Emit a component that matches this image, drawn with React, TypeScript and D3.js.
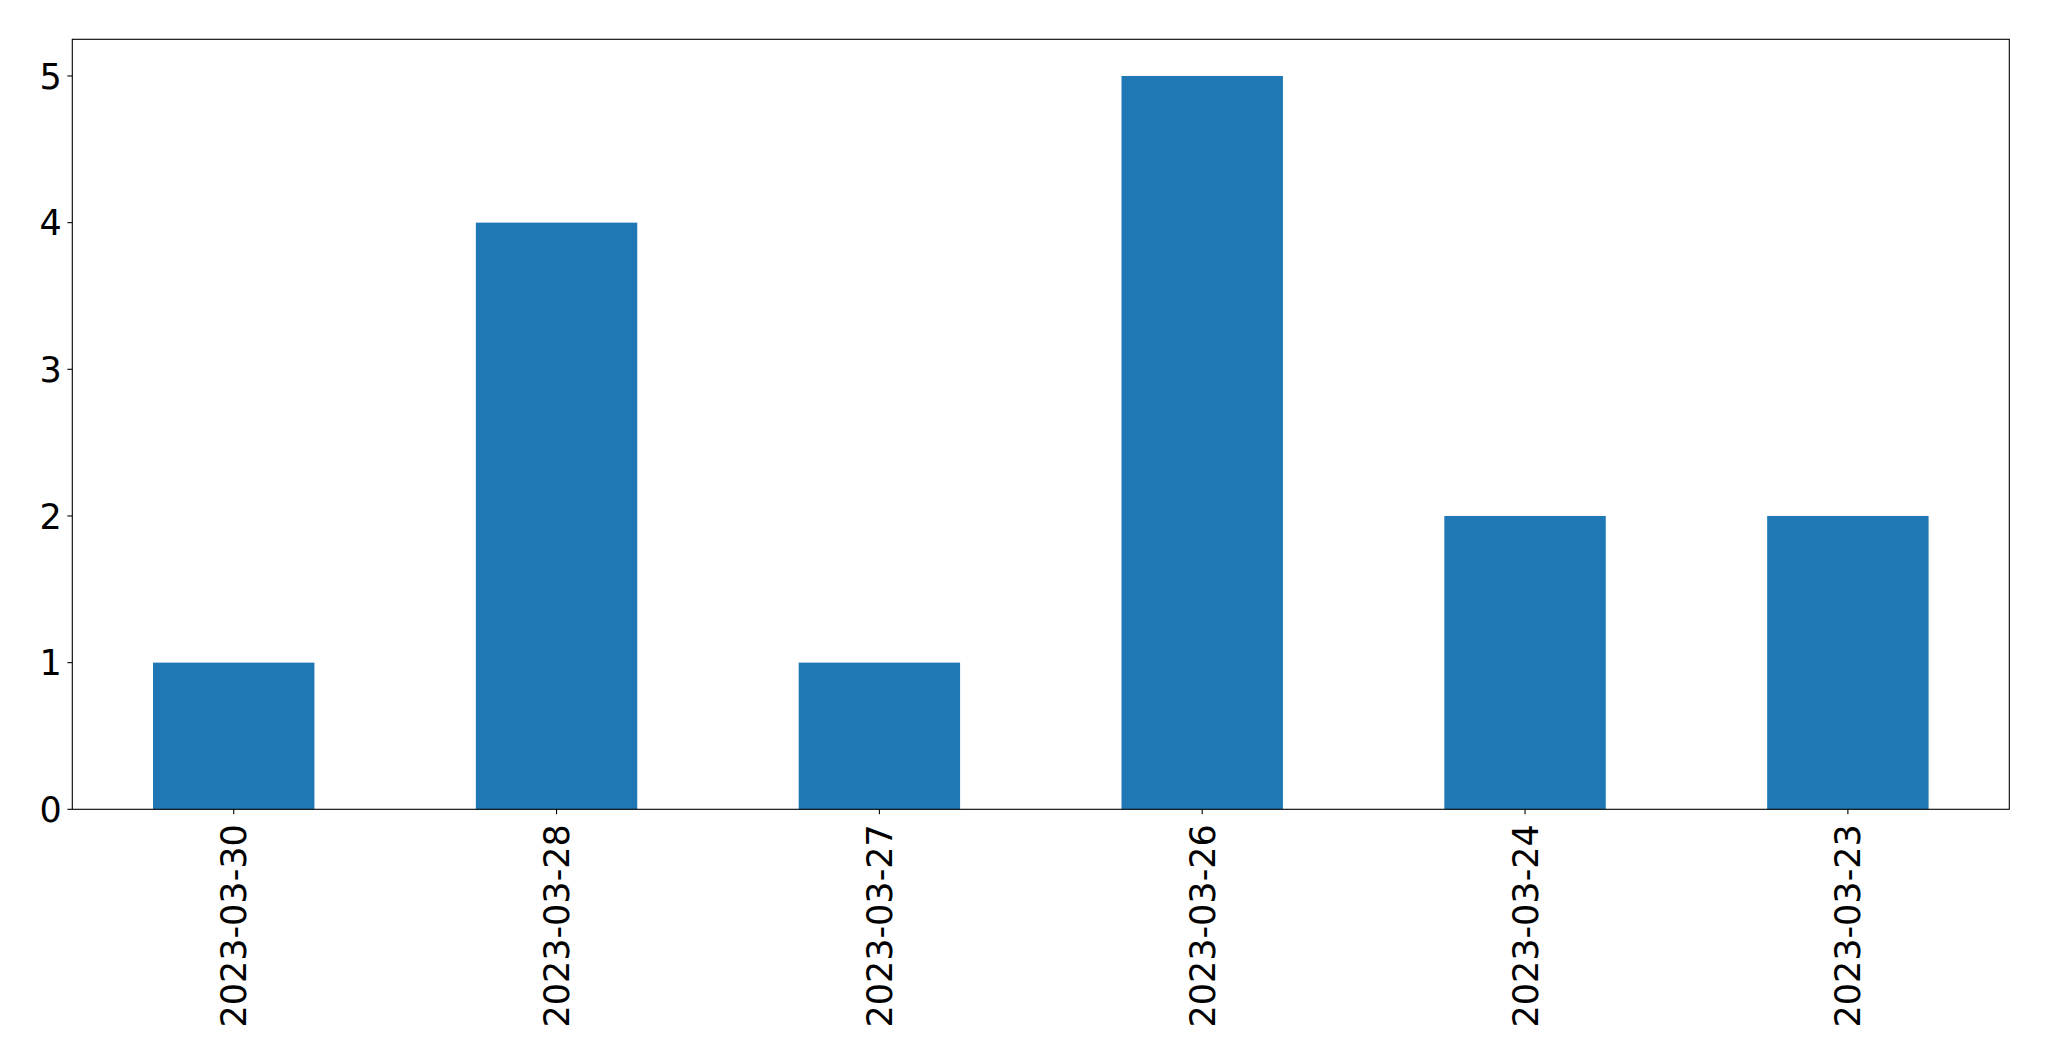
import React from "react";
import * as d3 from "d3";

const categories = ["2023-03-30", "2023-03-28", "2023-03-27", "2023-03-26", "2023-03-24", "2023-03-23"];
const values = [1, 4, 1, 5, 2, 2];
const yTicks = [0, 1, 2, 3, 4, 5];

const W = 2049;
const H = 1061;
const left = 72.3;
const right = 2009.3;
const top = 39.3;
const bottom = 809.3;
const fontSize = 35;
const font = "'DejaVu Sans', sans-serif";

export default function App() {
  const x = d3.scaleBand<string>().domain(categories).range([left, right]).paddingInner(0.5).paddingOuter(0.25);
  const y = d3.scaleLinear().domain([0, 5.25]).range([bottom, top]);
  const tickLen = 4.9;
  return (
    <svg width={W} height={H} style={{ position: "absolute", left: 0, top: 0, background: "#fff" }}>
      <rect x={0} y={0} width={W} height={H} fill="#fff" />
      {categories.map((c, i) => (
        <rect key={c} x={x(c)!} y={y(values[i])} width={x.bandwidth()} height={y(0) - y(values[i])} fill="#1f77b4" />
      ))}
      <rect x={left} y={top} width={right - left} height={bottom - top} fill="none" stroke="#000" strokeWidth={1.1} />
      {yTicks.map((t) => (
        <g key={t}>
          <line x1={left - tickLen} x2={left} y1={y(t)} y2={y(t)} stroke="#000" strokeWidth={1.1} />
          <text x={left - tickLen - 5.5} y={y(t)} dy="0.36em" textAnchor="end" fontFamily={font} fontSize={fontSize} fill="#000">
            {t}
          </text>
        </g>
      ))}
      {categories.map((c) => {
        const cx = x(c)! + x.bandwidth() / 2;
        const ty = bottom + tickLen + 10;
        return (
          <g key={c}>
            <line x1={cx} x2={cx} y1={bottom} y2={bottom + tickLen} stroke="#000" strokeWidth={1.1} />
            <text
              transform={`translate(${cx},${ty}) rotate(-90)`}
              dy="0.36em"
              textAnchor="end"
              fontFamily={font}
              fontSize={fontSize}
              fill="#000"
            >
              {c}
            </text>
          </g>
        );
      })}
    </svg>
  );
}
